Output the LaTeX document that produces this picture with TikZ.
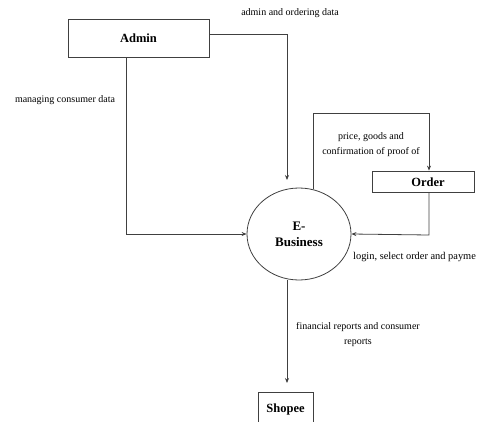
\documentclass[tikz,border=0pt]{standalone}
\usepackage{fontspec}
\setmainfont{Liberation Serif}
\usetikzlibrary{arrows.meta,shapes.geometric}
\begin{document}
\begin{tikzpicture}[x=1pt,y=-1pt,
  line/.style={draw=black!75,line width=0.8pt},
  flow/.style={line,-{Stealth[length=5pt,width=4pt]}},
  entity/.style={line,rectangle,inner sep=0pt,font=\fontsize{12.5}{14}\selectfont\bfseries},
  lbl/.style={inner sep=0pt,font=\fontsize{10}{15}\selectfont,align=center}]
\useasboundingbox (0,0) rectangle (477,421);
\clip (0,0) rectangle (477,421);
\node[entity,minimum width=141pt,minimum height=38pt] (admin) at (138.5,38) {Admin};
\node[line,ellipse,minimum width=104pt,minimum height=92pt,inner sep=0pt,align=center,
  font=\fontsize{13}{16}\selectfont\bfseries] (eb) at (299,234) {E-\\Business};
\node[entity,minimum width=102pt,minimum height=21pt] (order) at (423,181.5) {};
\node[inner sep=0pt,font=\fontsize{12.5}{14}\selectfont\bfseries] (ordertext) at (428,182) {Order};
\node[entity,minimum width=55pt,minimum height=34pt] (shopee) at (285.5,409) {Shopee};
\coordinate (t1) at (287,180);
\coordinate (t2) at (429,113);
\coordinate (t3) at (429,235);
\coordinate (t4) at (287,383);
% connectors
\draw[flow] ([yshift=4pt]admin.east) -| (t1);
\draw[flow] ([xshift=-12.5pt]admin.south) |- (eb.west);
\draw[flow] (eb.72) |- (t2) -- (order.north -| t2);
\draw[flow] (order.south -| t3) -- (t3) -- (eb.east);
\draw[flow] (eb.south -| t4) -- (t4);
% labels
\node[lbl] (l1) at (290,13) {admin and ordering data};
\node[lbl] (l2) at (65,100) {managing consumer data};
\node[lbl] (l3) at (371,144.5) {price, goods and\\confirmation of proof of};
\node[lbl,anchor=west,font=\fontsize{10.4}{15}\selectfont] (l4) at (353,257) {login, select order and payme};
\node[lbl] (l5) at (358,335) {financial reports and consumer\\reports};
\end{tikzpicture}
\end{document}
